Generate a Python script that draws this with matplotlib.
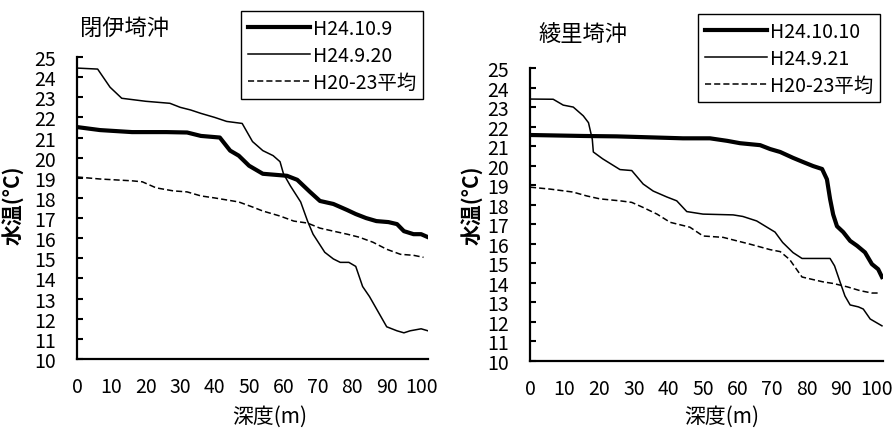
import matplotlib
matplotlib.use("Agg")
import matplotlib.pyplot as plt

plt.rcParams["font.family"] = ["Noto Sans CJK JP", "DejaVu Sans"]

# ── 閉伊埼沖 ──────────────────────────────────────────────
heii_thick_d = [0, 6.7, 16, 26, 32, 36, 41.5, 44.5, 47, 50, 54, 61, 64, 67.7, 70.6,
                74.5, 78.5, 81, 84, 87, 90.5, 93, 95, 97.8, 100, 102]
heii_thick_t = [21.52, 21.37, 21.27, 21.27, 21.25, 21.08, 21.0, 20.35, 20.1, 19.6, 19.2,
                19.1, 18.9, 18.3, 17.85, 17.7, 17.4, 17.2, 17.0, 16.85, 16.8, 16.7, 16.35,
                16.2, 16.2, 16.05]
heii_thin_d = [0, 6, 9.6, 13, 20, 27, 30, 33, 36, 40, 43.5, 48, 51, 54, 57, 59, 60, 62,
               65, 67, 68.6, 72, 74.5, 76.5, 79, 81, 83, 85, 88, 90, 93, 95, 96.8, 100, 102]
heii_thin_t = [24.45, 24.4, 23.5, 22.95, 22.8, 22.7, 22.5, 22.37, 22.2, 22.0, 21.8, 21.7,
               20.8, 20.35, 20.1, 19.8, 19.2, 18.6, 17.8, 16.85, 16.2, 15.3, 14.97, 14.8,
               14.8, 14.6, 13.6, 13.1, 12.2, 11.6, 11.4, 11.3, 11.4, 11.5, 11.4]
heii_avg_d = [0, 6.7, 16, 19, 23, 28, 32, 36, 40, 47, 51, 54, 59, 63, 67, 70.6, 74.5,
              78.5, 82, 86, 90, 94, 97.8, 100.7]
heii_avg_t = [19.04, 18.94, 18.85, 18.8, 18.5, 18.35, 18.3, 18.1, 18.0, 17.8, 17.55,
              17.35, 17.1, 16.85, 16.75, 16.5, 16.35, 16.2, 16.05, 15.8, 15.45, 15.2,
              15.15, 15.05]

# ── 綾里埼沖 ──────────────────────────────────────────────
ryori_thick_d = [0, 15.4, 25, 34.7, 44.2, 52, 57, 60.7, 66.5, 69.4, 72.3, 76, 79, 81.8,
                 84.4, 85.8, 86.7, 87.6, 88.7, 90.5, 92.5, 94.5, 96.8, 98.8, 100.6, 101.7]
ryori_thick_t = [21.57, 21.52, 21.5, 21.45, 21.4, 21.4, 21.27, 21.15, 21.05, 20.85, 20.7,
                 20.4, 20.18, 19.98, 19.83, 19.3, 18.3, 17.5, 16.9, 16.6, 16.15, 15.9,
                 15.56, 14.96, 14.7, 14.3]
ryori_thin_d = [0, 6.7, 9.6, 12.5, 15.4, 16.9, 18, 18.3, 21, 26, 29.4, 32.7, 35.6, 39.5,
                42.4, 45.3, 50, 58.7, 61.5, 65.5, 69.4, 70.8, 73, 76, 78.6, 82.9, 86.7,
                88, 89.6, 91, 92.5, 94.9, 96.3, 98.3, 101.7]
ryori_thin_t = [23.41, 23.4, 23.1, 23.0, 22.55, 22.2, 21.35, 20.7, 20.35, 19.8, 19.75,
                19.06, 18.7, 18.4, 18.2, 17.65, 17.52, 17.48, 17.4, 17.17, 16.75, 16.6,
                16.07, 15.55, 15.25, 15.25, 15.25, 14.87, 14.04, 13.33, 12.87, 12.77,
                12.66, 12.15, 11.8]
ryori_avg_d = [0, 5.8, 12.4, 16.4, 20.2, 26, 29.4, 32.7, 36.7, 40.5, 46.2, 50, 55.8,
               59.8, 63.6, 69.4, 72.3, 75, 78.6, 81, 84.7, 87.6, 91.6, 95.4, 98.8, 100.6]
ryori_avg_t = [18.9, 18.8, 18.65, 18.45, 18.3, 18.2, 18.12, 17.86, 17.52, 17.1, 16.85,
               16.4, 16.33, 16.15, 15.98, 15.7, 15.6, 15.2, 14.3, 14.2, 14.05, 13.97,
               13.8, 13.6, 13.48, 13.48]

yticks = list(range(10, 26))
xticks = list(range(0, 101, 10))

W, H = 894, 431
fig = plt.figure(figsize=(W / 100, H / 100), dpi=100)


def px_axes(x0, x1, ytop, ybot):
    return fig.add_axes([x0 / W, 1 - ybot / H, (x1 - x0) / W, (ybot - ytop) / H])


def draw_panel(ax, thick, thin, avg, labels):
    ax.plot(*thick, color="black", lw=3.0, label=labels[0])
    ax.plot(*thin, color="black", lw=1.1, label=labels[1])
    ax.plot(*avg, color="black", lw=1.1, dashes=(4, 2), label=labels[2])
    ax.set_xlim(0, 102)
    ax.set_ylim(10, 25)
    ax.set_xticks(xticks)
    ax.set_yticks(yticks)
    for s in ("top", "right"):
        ax.spines[s].set_visible(False)
    for s in ("left", "bottom"):
        ax.spines[s].set_linewidth(1.6)
    ax.tick_params(axis="y", direction="in", length=4, width=1.5, pad=15, labelsize=14)
    ax.tick_params(axis="x", length=0, pad=12, labelsize=14)
    ax.patch.set_visible(False)


ax1 = px_axes(77, 428, 58, 360)
draw_panel(ax1, (heii_thick_d, heii_thick_t), (heii_thin_d, heii_thin_t),
           (heii_avg_d, heii_avg_t), ["H24.10.9", "H24.9.20", "H20-23平均"])
ax2 = px_axes(530, 883, 69, 362)
draw_panel(ax2, (ryori_thick_d, ryori_thick_t), (ryori_thin_d, ryori_thin_t),
           (ryori_avg_d, ryori_avg_t), ["H24.10.10", "H24.9.21", "H20-23平均"])

for ax, (lx, ly) in ((ax1, (241, 12)), (ax2, (698, 15))):
    leg = ax.legend(loc="upper left", bbox_to_anchor=(lx / W, 1 - ly / H),
                    bbox_transform=fig.transFigure, borderaxespad=0, fontsize=14,
                    handlelength=3.2, handletextpad=0.15, labelspacing=0.3,
                    borderpad=0.35, fancybox=False, framealpha=1)
    leg.get_frame().set_edgecolor("black")
    leg.get_frame().set_linewidth(1.0)

# タイトル・軸ラベル
fig.text(125 / W, 1 - 28 / H, "閉伊埼沖", ha="center", va="center", fontsize=16)
fig.text(583 / W, 1 - 35 / H, "綾里埼沖", ha="center", va="center", fontsize=16)
for x in (13, 472):
    fig.text(x / W, 1 - 205 / H, "水温(°C)", rotation=90, ha="center", va="center",
             fontsize=15, weight="bold")
fig.text(270 / W, 1 - 417 / H, "深度(m)", ha="center", va="center", fontsize=15)
fig.text(722 / W, 1 - 417 / H, "深度(m)", ha="center", va="center", fontsize=15)

fig.savefig("out.png", dpi=100)
